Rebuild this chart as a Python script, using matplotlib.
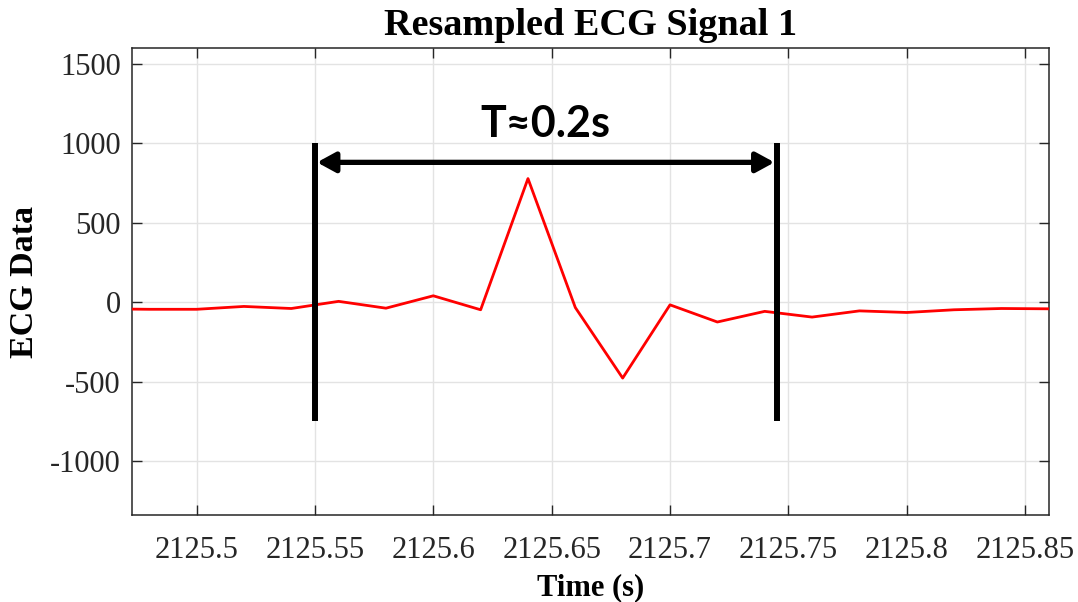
import numpy as np
import matplotlib
matplotlib.use("Agg")
import matplotlib.pyplot as plt

# resampled ECG samples (50 Hz) around one beat
time_s = [2125.46, 2125.48, 2125.50, 2125.52, 2125.54, 2125.56, 2125.58,
          2125.60, 2125.62, 2125.64, 2125.66, 2125.68, 2125.70, 2125.72,
          2125.74, 2125.76, 2125.78, 2125.80, 2125.82, 2125.84, 2125.86]
ecg_vals = [-42, -45, -45, -27, -40, 5, -38,
            40, -48, 778, -34, -478, -17, -125,
            -58, -94, -55, -65, -48, -40, -42]

# period markers
t_start, t_end = 2125.55, 2125.745
marker_lo, marker_hi = -750, 1000
arrow_y = 880
period_label = "T≈0.2s"

x_ticks = [2125.5, 2125.55, 2125.6, 2125.65, 2125.7, 2125.75, 2125.8, 2125.85]
y_ticks = [-1000, -500, 0, 500, 1000, 1500]

plt.rcParams["font.family"] = ["Liberation Serif", "DejaVu Serif"]
plt.rcParams["axes.unicode_minus"] = False
ax_color = "#262626"

fig = plt.figure(figsize=(10.78, 6.02), dpi=100)
ax = fig.add_axes([0.1224, 0.1445, 0.8507, 0.7758])

ax.plot(time_s, ecg_vals, color="#ff0000", lw=2.0, zorder=3)

# vertical bounds and double arrow
for t in (t_start, t_end):
    ax.plot([t, t], [marker_lo, marker_hi], color="black", lw=4.3,
            solid_capstyle="butt", zorder=4)
ax.annotate("", xy=(t_end, arrow_y), xytext=(t_start, arrow_y),
            arrowprops=dict(arrowstyle="<|-|>,head_length=0.55,head_width=0.3",
                            mutation_scale=20, lw=3.8, color="black",
                            shrinkA=1.5, shrinkB=1.5),
            zorder=4)
ax.text((t_start + t_end) / 2, 1120, period_label, ha="center", va="center",
        fontsize=31, fontweight="bold", family=["Lato", "DejaVu Sans"])

ax.set_xlim(2125.4727, 2125.8601)
ax.set_ylim(-1340, 1600)
ax.set_xticks(x_ticks)
ax.set_xticklabels([f"{v:g}" for v in x_ticks])
ax.set_yticks(y_ticks)

ax.grid(True, color="#e3e3e3", lw=1.0)
ax.set_axisbelow(True)
for sp in ax.spines.values():
    sp.set_color(ax_color)
    sp.set_linewidth(1.1)
ax.tick_params(direction="in", length=7, width=1.0, colors=ax_color,
               labelsize=22, top=True, right=True, pad=8)
ax.tick_params(axis="x", pad=15)

ax.set_title("Resampled ECG Signal 1", fontsize=27.5, fontweight="bold", pad=9)
ax.set_xlabel("Time (s)", fontsize=22, fontweight="bold", labelpad=6)
ax.set_ylabel("ECG Data", fontsize=24.5, fontweight="bold", labelpad=7)

fig.savefig("out.png", dpi=100)
